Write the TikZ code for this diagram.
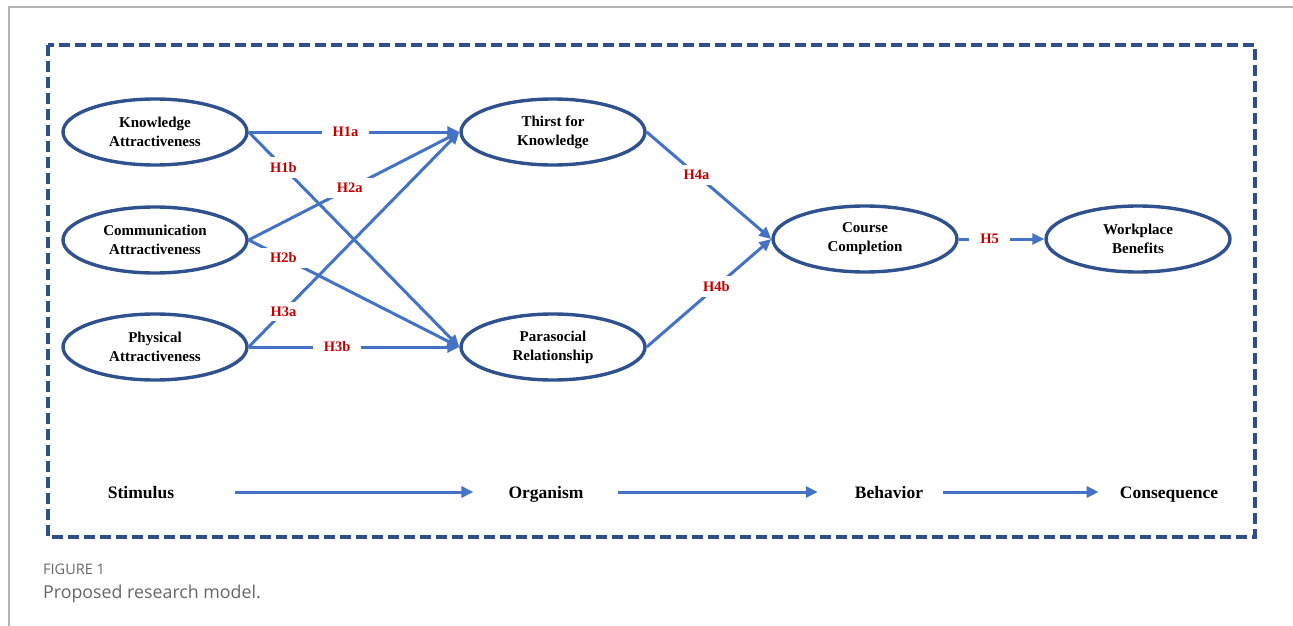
\documentclass[tikz,border=0pt]{standalone}
\usepackage{fontspec}
\setmainfont{Liberation Serif}
\newfontfamily\capfont{Open Sans}
\usetikzlibrary{shapes.geometric,arrows.meta}
\definecolor{ellblue}{HTML}{2F528F}
\definecolor{boxblue}{HTML}{2E4E8C}
\definecolor{arrblue}{HTML}{4472C4}
\definecolor{hred}{HTML}{C00000}
\definecolor{capgray}{HTML}{666666}
\definecolor{framegray}{HTML}{B4B4B4}
\begin{document}
\begin{tikzpicture}[x=1pt,y=-1pt,
  cons/.style={ellipse, draw=ellblue, line width=3.4pt, minimum width=184pt,
    minimum height=66pt, inner sep=0pt, align=center,
    font=\fontsize{15}{19}\selectfont\bfseries},
  link/.style={draw=arrblue, line width=3pt, -{Triangle[length=12pt,width=11pt]}},
  hyp/.style={fill=white, text=hred, inner xsep=11pt, inner ysep=5pt,
    font=\fontsize{14.5}{14.5}\selectfont\bfseries},
  stage/.style={inner sep=0pt, text height=12pt, text depth=0pt,
    font=\fontsize{17.5}{20}\selectfont\bfseries},
  flow/.style={draw=arrblue, line width=3pt, -{Triangle[length=12pt,width=11pt]}}]
\useasboundingbox (0,0) rectangle (1293,626);
% card frame
\draw[framegray, line width=1.2pt] (9,626) -- (9,7) -- (1293,7);
% dashed box
\draw[boxblue, line width=3.5pt, dash pattern=on 11pt off 5pt] (48,45) rectangle (1255,537);
% constructs
\node[cons] (KA) at (155,132) {Knowledge\\Attractiveness};
\node[cons] (CA) at (155,240) {Communication\\Attractiveness};
\node[cons] (PA) at (155,347) {Physical\\Attractiveness};
\node[cons] (TK) at (553,132) {Thirst for\\Knowledge};
\node[cons] (PR) at (553,347) {Parasocial\\Relationship};
\node[cons] (CC) at (865,239) {Course\\Completion};
\node[cons] (WB) at (1138,239) {Workplace\\Benefits};
% paths
\draw[link] (KA.east) -- (TK.west) node[hyp, pos=0.46] {H1a};
\draw[link] (KA.east) -- (PR.west) node[hyp, pos=0.165] {H1b};
\draw[link] (CA.east) -- (TK.west) node[hyp, pos=0.48] {H2a};
\draw[link] (CA.east) -- (PR.west) node[hyp, pos=0.165] {H2b};
\draw[link] (PA.east) -- (TK.west) node[hyp, pos=0.165] {H3a};
\draw[link] (PA.east) -- (PR.west) node[hyp, pos=0.42] {H3b};
\draw[link] (TK.east) -- (CC.west) node[hyp, pos=0.40] {H4a};
\draw[link] (PR.east) -- (CC.west) node[hyp, pos=0.56] {H4b};
\draw[link] (CC.east) -- (WB.west) node[hyp, pos=0.36] {H5};
% S-O-B-C row
\node[stage] (S) at (141,492) {Stimulus};
\node[stage] (O) at (546,492) {Organism};
\node[stage] (B) at (889,492) {Behavior};
\node[stage] (C) at (1169,492) {Consequence};
\draw[flow, shorten <=61pt, shorten >=35pt] (S.east) -- (O.west);
\draw[flow, shorten <=34pt, shorten >=37pt] (O.east) -- (B.west);
\draw[flow, shorten <=20pt, shorten >=21pt] (B.east) -- (C.west);
% caption
\node[anchor=base west, inner sep=0pt, text=capgray, font=\capfont\fontsize{14.5}{16}\selectfont] (fig) at (43,574) {FIGURE 1};
\node[anchor=base west, inner sep=0pt, text=capgray, font=\capfont\fontsize{17.8}{20}\selectfont] (cap) at (43,598) {Proposed research model.};
\end{tikzpicture}
\end{document}
